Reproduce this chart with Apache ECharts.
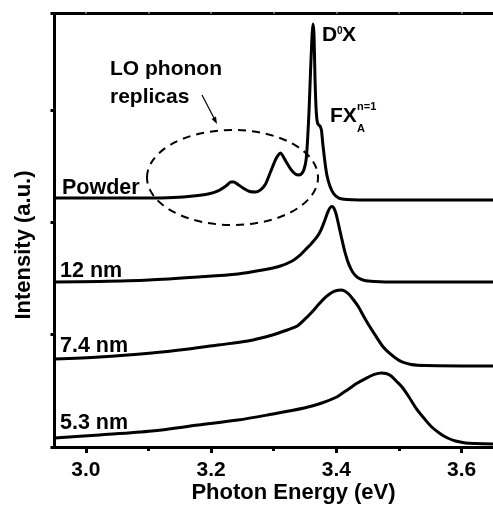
<!DOCTYPE html>
<html>
<head>
<meta charset="utf-8">
<script src="https://cdn.jsdelivr.net/npm/echarts@6/dist/echarts.min.js"></script>
<style>html,body{margin:0;padding:0;background:#fff}#c{width:493px;height:507px}</style>
</head>
<body>
<div id="c"></div>
<script>
// ---- data (photon energy in eV, intensity in a.u.) ----
var powderE = [2.95, 3.0217, 3.1006, 3.1401, 3.1716, 3.1953, 3.2111, 3.2237, 3.2316, 3.2364, 3.2427, 3.2522, 3.2616, 3.2711, 3.2790, 3.2869, 3.2948, 3.3027, 3.3074, 3.3106, 3.3137, 3.3200, 3.3280, 3.3343, 3.3406, 3.3454, 3.3485, 3.3517, 3.3540, 3.3564, 3.3588, 3.3612, 3.3627, 3.3643, 3.3659, 3.3675, 3.3690, 3.3706, 3.3738, 3.3761, 3.3785, 3.3817, 3.3848, 3.3896, 3.3959, 3.4038, 3.4164, 3.4638, 3.65];
var powderI = [2.217, 2.217, 2.217, 2.222, 2.235, 2.253, 2.280, 2.324, 2.360, 2.360, 2.338, 2.302, 2.275, 2.271, 2.289, 2.342, 2.449, 2.556, 2.600, 2.618, 2.600, 2.538, 2.467, 2.431, 2.422, 2.440, 2.475, 2.560, 2.734, 3.001, 3.357, 3.669, 3.767, 3.669, 3.268, 3.019, 2.912, 2.876, 2.858, 2.823, 2.689, 2.538, 2.422, 2.324, 2.253, 2.217, 2.204, 2.199, 2.199];

var nm12E = [2.95, 3.0217, 3.1006, 3.1795, 3.2427, 3.2821, 3.3106, 3.3295, 3.3406, 3.3501, 3.3596, 3.3690, 3.3753, 3.3817, 3.3864, 3.3896, 3.3927, 3.3959, 3.3991, 3.4022, 3.4054, 3.4101, 3.4149, 3.4196, 3.4259, 3.4338, 3.4449, 3.4607, 3.4954, 3.65];
var nm12I = [1.469, 1.474, 1.487, 1.514, 1.541, 1.576, 1.612, 1.656, 1.701, 1.754, 1.808, 1.870, 1.932, 2.021, 2.093, 2.128, 2.142, 2.128, 2.084, 2.012, 1.932, 1.817, 1.710, 1.630, 1.558, 1.509, 1.483, 1.474, 1.469, 1.469];

var nm74E = [2.95, 3.0217, 3.1053, 3.1641, 3.2111, 3.2585, 3.2980, 3.3216, 3.3374, 3.3501, 3.3611, 3.3722, 3.3832, 3.3927, 3.4006, 3.4069, 3.4132, 3.4196, 3.4275, 3.4354, 3.4433, 3.4527, 3.4638, 3.4748, 3.4843, 3.4954, 3.5048, 3.5190, 3.5427, 3.65];
var nm74I = [0.784, 0.801, 0.837, 0.873, 0.908, 0.944, 0.997, 1.042, 1.077, 1.140, 1.202, 1.273, 1.336, 1.376, 1.394, 1.398, 1.389, 1.362, 1.309, 1.247, 1.167, 1.077, 0.980, 0.890, 0.837, 0.788, 0.757, 0.735, 0.726, 0.721];

var nm53E = [2.95, 3.0217, 3.1053, 3.1795, 3.2427, 3.2900, 3.3485, 3.3769, 3.4006, 3.4101, 3.4196, 3.4322, 3.4480, 3.4606, 3.4717, 3.4796, 3.4875, 3.4954, 3.5048, 3.5159, 3.5270, 3.5396, 3.5522, 3.5664, 3.5775, 3.5901, 3.6059, 3.6217, 3.65];
var nm53I = [0.080, 0.107, 0.142, 0.196, 0.240, 0.285, 0.347, 0.392, 0.445, 0.481, 0.516, 0.565, 0.614, 0.646, 0.659, 0.654, 0.632, 0.588, 0.534, 0.445, 0.347, 0.258, 0.178, 0.116, 0.080, 0.053, 0.036, 0.031, 0.027];

var xMajorTicks = [3.0, 3.2, 3.4, 3.6];
var xMinorTicks = [3.1, 3.3, 3.5];
var xTopTicks = [3.0, 3.1, 3.2, 3.3, 3.4, 3.5, 3.6];
var curveNames = ['Powder', '12 nm', '7.4 nm', '5.3 nm'];

function pairs(xs, ys) { return xs.map(function (x, i) { return [x, ys[i]]; }); }

var FONT = '"Liberation Sans", Arial, sans-serif';
var chart = echarts.init(document.getElementById('c'), null, {renderer: 'canvas'});

function lineSeries(name, xs, ys, sm) {
  return {
    name: name, type: 'line', xAxisIndex: 0, yAxisIndex: 0,
    data: pairs(xs, ys), showSymbol: false, symbol: 'none',
    smooth: sm,
    lineStyle: {color: '#000', width: 3, join: 'round', cap: 'round'}, silent: true, animation: false
  };
}

function txt(text, x, y, size, extra) {
  var o = {type: 'text', x: x, y: y, z: 100, style: {text: text, font: 'bold ' + size + 'px ' + FONT, fill: '#000', textAlign: 'left', textVerticalAlign: 'middle'}};
  if (extra) for (var k in extra) o.style[k] = extra[k];
  return o;
}

var graphics = [
  {type: 'ellipse', z: 90, shape: {cx: 232.5, cy: 177.5, rx: 85.5, ry: 47.5}, style: {fill: 'none', stroke: '#000', lineWidth: 2, lineDash: [8, 6]}},
  {type: 'line', z: 90, shape: {x1: 202, y1: 95, x2: 214.5, y2: 119}, style: {stroke: '#000', lineWidth: 1.2}},
  {type: 'polygon', z: 90, shape: {points: [[217, 124], [211.6, 118.9], [216.0, 116.6]]}, style: {fill: '#000'}},
  txt('LO phonon', 110, 69, 21),
  txt('replicas', 110, 97, 21),
  txt('D', 322, 35, 21),
  txt('0', 337, 31, 10),
  txt('X', 342, 35, 21),
  txt('FX', 330, 116, 21),
  txt('n=1', 357, 107, 11),
  txt('A', 357, 129, 11),
  txt(curveNames[0], 62, 188, 21.5),
  txt(curveNames[1], 60, 271, 21.5),
  txt(curveNames[2], 60, 346, 21.5),
  txt(curveNames[3], 60, 423, 21.5),
  txt('Photon Energy (eV)', 293.5, 493, 22, {textAlign: 'center'}),
  {type: 'text', z: 100, x: 24, y: 245, rotation: Math.PI / 2,
   style: {text: 'Intensity (a.u.)', font: 'bold 22px ' + FONT, fill: '#000', textAlign: 'center', textVerticalAlign: 'middle'}}
];

var option = {
  animation: false,
  backgroundColor: '#fff',
  grid: {left: 54.5, top: 13.7, width: 443.2, height: 433.3, containLabel: false},
  xAxis: [
    {type: 'value', position: 'bottom', min: 2.95, max: 3.65,
     axisLine: {show: true, onZero: false, lineStyle: {color: '#000', width: 3}},
     axisTick: {show: true, customValues: xMajorTicks, length: 6, inside: false, lineStyle: {color: '#000', width: 3}},
     axisLabel: {show: true, customValues: xMajorTicks, margin: 13, color: '#000', fontSize: 21, fontWeight: 'bold', fontFamily: FONT,
       formatter: function (v) { return v.toFixed(1); }},
     splitLine: {show: false}},
    {type: 'value', position: 'bottom', min: 2.95, max: 3.65, gridIndex: 0,
     axisLine: {show: false, onZero: false},
     axisTick: {show: true, customValues: xMinorTicks, length: 4, inside: false, lineStyle: {color: '#000', width: 3}},
     axisLabel: {show: false}, splitLine: {show: false}},
    {type: 'value', position: 'top', min: 2.95, max: 3.65,
     axisLine: {show: true, onZero: false, lineStyle: {color: '#000', width: 3}},
     axisTick: {show: true, customValues: xTopTicks, length: 2, inside: false, lineStyle: {color: '#999', width: 1.5}},
     axisLabel: {show: false}, splitLine: {show: false}}
  ],
  yAxis: [
    {type: 'value', min: 0, max: 3.858, interval: 1, position: 'left',
     axisLine: {show: true, onZero: false, lineStyle: {color: '#000', width: 3}},
     axisTick: {show: true, length: 4, inside: false, lineStyle: {color: '#000', width: 3}},
     axisLabel: {show: false}, splitLine: {show: false}}
  ],
  series: [
    lineSeries(curveNames[0], powderE, powderI, 0.2),
    lineSeries(curveNames[1], nm12E, nm12I, 0.3),
    lineSeries(curveNames[2], nm74E, nm74I, 0.3),
    lineSeries(curveNames[3], nm53E, nm53I, 0.3)
  ],
  graphic: graphics
};
chart.setOption(option);
</script>
</body>
</html>
